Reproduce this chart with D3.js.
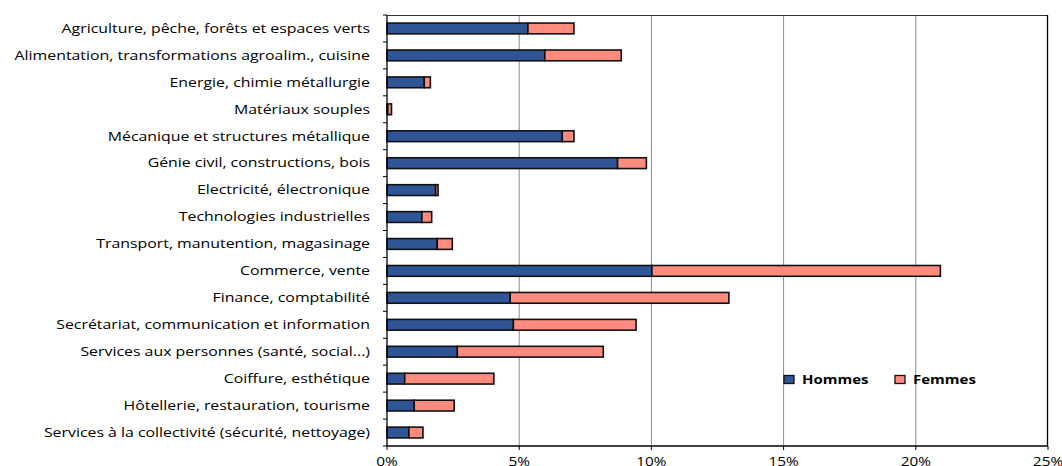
<!DOCTYPE html>
<html>
<head>
<meta charset="utf-8">
<script src="https://cdn.jsdelivr.net/npm/d3@7"></script>
<style>
  body { margin: 0; background: #fff; }
  svg text { font-family: "Open Sans", sans-serif; fill: #000; }
</style>
</head>
<body>
<div id="chart"></div>
<script>
// secteurs, du haut vers le bas
var categories = [
  "Agriculture, pêche, forêts et espaces verts",
  "Alimentation, transformations agroalim., cuisine",
  "Energie, chimie métallurgie",
  "Matériaux souples",
  "Mécanique et structures métallique",
  "Génie civil, constructions, bois",
  "Electricité, électronique",
  "Technologies industrielles",
  "Transport, manutention, magasinage",
  "Commerce, vente",
  "Finance, comptabilité",
  "Secrétariat, communication et information",
  "Services aux personnes (santé, social...)",
  "Coiffure, esthétique",
  "Hôtellerie, restauration, tourisme",
  "Services à la collectivité (sécurité, nettoyage)"
];
var hommes = [5.33, 5.97, 1.41, 0.03, 6.63, 8.72, 1.84, 1.32, 1.90, 10.02, 4.66, 4.78, 2.66, 0.67, 1.03, 0.83];
var femmes = [1.74, 2.89, 0.23, 0.14, 0.44, 1.09, 0.09, 0.37, 0.57, 10.91, 8.27, 4.64, 5.52, 3.37, 1.51, 0.53];
var xTicks = [0, 5, 10, 15, 20, 25];
var seriesNames = ["Hommes", "Femmes"];
var colors = ["#2f5597", "#ff8b7f"];

var W = 1062, H = 466;
var plotL = 387, plotR = 1048, plotT = 15, plotB = 446;
var stretch = 1.29; // le texte de l'original est étiré horizontalement

var svg = d3.select("#chart").append("svg")
  .attr("width", W)
  .attr("height", H);

var x = d3.scaleLinear().domain([0, 25]).range([plotL, plotR]);
var y = d3.scaleBand().domain(categories).range([plotT, plotB])
  .paddingInner(0.6).paddingOuter(0.3);

// grille verticale
svg.append("g").selectAll("line")
  .data(xTicks.filter(function(t) { return t > 0 && t < 25; }))
  .enter().append("line")
  .attr("x1", d => x(d)).attr("x2", d => x(d))
  .attr("y1", plotT).attr("y2", plotB)
  .attr("stroke", "#8c8c8c").attr("stroke-width", 1);

// bordure de la zone de tracé
svg.append("line")
  .attr("x1", plotL).attr("x2", plotR).attr("y1", plotT + 0.5).attr("y2", plotT + 0.5)
  .attr("stroke", "#333").attr("stroke-width", 1.2);
svg.append("line")
  .attr("x1", plotR - 0.5).attr("x2", plotR - 0.5).attr("y1", plotT).attr("y2", plotB)
  .attr("stroke", "#000").attr("stroke-width", 1.3);

// barres empilées
var stacked = categories.map(function(c, i) {
  return { cat: c, h: hommes[i], f: femmes[i] };
});

var rows = svg.append("g").selectAll("g")
  .data(stacked)
  .enter().append("g");

rows.append("rect")
  .attr("x", d => x(0))
  .attr("y", d => y(d.cat))
  .attr("width", d => x(d.h) - x(0))
  .attr("height", y.bandwidth())
  .attr("fill", colors[0])
  .attr("stroke", "#111").attr("stroke-width", 1.6);

rows.append("rect")
  .attr("x", d => x(d.h))
  .attr("y", d => y(d.cat))
  .attr("width", d => x(d.h + d.f) - x(d.h))
  .attr("height", y.bandwidth())
  .attr("fill", colors[1])
  .attr("stroke", "#111").attr("stroke-width", 1.6);

// axe vertical
var step = y.step();
svg.append("line")
  .attr("x1", plotL).attr("x2", plotL).attr("y1", plotT).attr("y2", plotB)
  .attr("stroke", "#000").attr("stroke-width", 1.3);
svg.append("g").selectAll("line")
  .data(d3.range(categories.length + 1))
  .enter().append("line")
  .attr("x1", plotL - 4).attr("x2", plotL)
  .attr("y1", i => plotT + i * step).attr("y2", i => plotT + i * step)
  .attr("stroke", "#000").attr("stroke-width", 1);

svg.append("g").selectAll("text")
  .data(categories)
  .enter().append("text")
  .attr("transform", d => "translate(370," + (y(d) + y.bandwidth() / 2) + ") scale(" + stretch + ",1)")
  .attr("dy", "0.35em")
  .attr("text-anchor", "end")
  .style("font-size", "12.3px")
  .text(d => d);

// axe horizontal
svg.append("line")
  .attr("x1", plotL).attr("x2", plotR).attr("y1", plotB).attr("y2", plotB)
  .attr("stroke", "#000").attr("stroke-width", 1.3);
svg.append("g").selectAll("line")
  .data(xTicks)
  .enter().append("line")
  .attr("x1", d => x(d)).attr("x2", d => x(d))
  .attr("y1", plotB).attr("y2", plotB + 4)
  .attr("stroke", "#000").attr("stroke-width", 1);
svg.append("g").selectAll("text")
  .data(xTicks)
  .enter().append("text")
  .attr("transform", d => "translate(" + x(d) + ",465.5) scale(1.25,1)")
  .attr("text-anchor", "middle")
  .style("font-size", "12.3px")
  .text(d => d + "%");

// légende
var legend = svg.append("g").attr("transform", "translate(784,375)");
var lx = [0, 111];
seriesNames.forEach(function(name, i) {
  legend.append("rect")
    .attr("x", lx[i]).attr("y", 0.5)
    .attr("width", 10).attr("height", 8)
    .attr("fill", colors[i])
    .attr("stroke", "#111").attr("stroke-width", 1.3);
  legend.append("text")
    .attr("transform", "translate(" + (lx[i] + 18) + ",4.5) scale(1.25,1)")
    .attr("dy", "0.36em")
    .style("font-size", "12px")
    .style("font-weight", "bold")
    .text(name);
});
</script>
</body>
</html>
